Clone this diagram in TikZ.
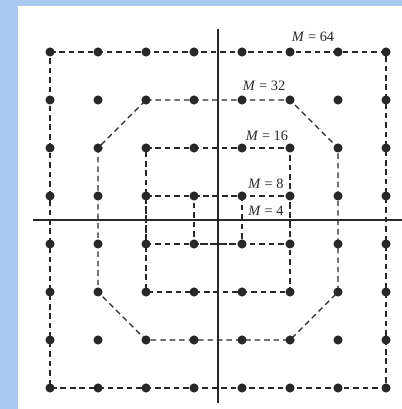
\documentclass[tikz,border=0pt]{standalone}
\usepackage{fontspec}
\setmainfont{Liberation Serif}
\definecolor{slideblue}{RGB}{170,199,240}
\definecolor{inkgray}{RGB}{40,40,40}

\begin{document}
\begin{tikzpicture}[line width=0.75pt, draw=inkgray,
  ring/.style={draw=inkgray, dash pattern=on 3.3pt off 2.3pt},
  axis/.style={draw=inkgray, line width=1pt},
  lbl/.style={font=\fontsize{8.5}{10}\selectfont, text=inkgray, inner sep=1pt}]
  \useasboundingbox (-4.542,-3.938) rectangle (3.833,4.583);
  \fill[slideblue] (-4.542,-3.938) rectangle (3.833,4.583);
  \fill[white] (-4.167,-3.938) rectangle (3.833,4.458);
  % grid of signal points
  \foreach \i in {0,...,7}
    \foreach \j in {0,...,7}
      \coordinate (p\i\j) at ({\i-3.5},{3.5-\j});
  % axes
  \coordinate (ytop) at (0,3.98);
  \coordinate (ybot) at (0,-3.81);
  \coordinate (xleft) at (-3.85,0);
  \coordinate (xright) at (3.833,0);
  \draw[axis] (ybot) -- (ytop);
  \draw[axis] (xleft) -- (xright);
  % constellation boundaries
  \draw[ring] (p00) -- (p70) -- (p77) -- (p07) -- cycle;
  \draw[ring] (p21) -- (p51) -- (p62) -- (p65) -- (p56) -- (p26) -- (p15) -- (p12) -- cycle;
  \draw[ring] (p22) -- (p52) -- (p55) -- (p25) -- cycle;
  \draw[ring] (p23) -- (p53) -- (p54) -- (p24) -- cycle;
  \draw[ring] (p33) -- (p43) -- (p44) -- (p34) -- cycle;
  \foreach \i in {0,...,7}
    \foreach \j in {0,...,7}
      \fill[inkgray] (p\i\j) circle (0.095);
  \node[lbl] (m64) at (1.98,3.81) {\textit{M} = 64};
  \node[lbl] (m32) at (0.96,2.79) {\textit{M} = 32};
  \node[lbl] (m16) at (1.02,1.75) {\textit{M} = 16};
  \node[lbl] (m8) at (1.0,0.75) {\textit{M} = 8};
  \node[lbl] (m4) at (1.0,0.19) {\textit{M} = 4};
\end{tikzpicture}
\end{document}
